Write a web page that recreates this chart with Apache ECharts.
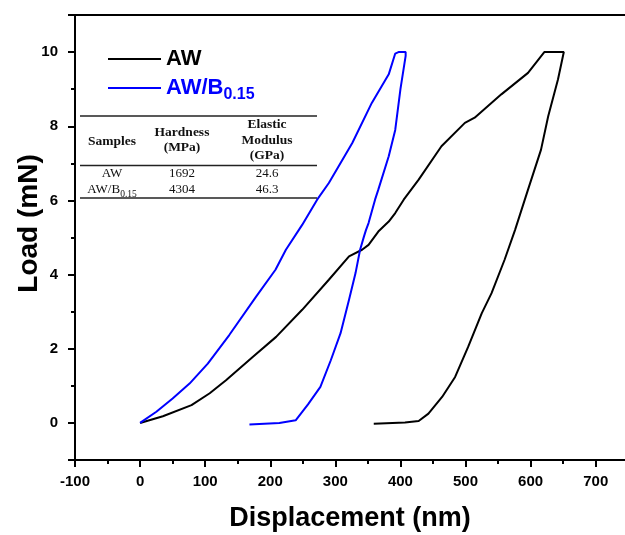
<!DOCTYPE html>
<html>
<head>
<meta charset="utf-8">
<script src="https://cdn.jsdelivr.net/npm/echarts@6/dist/echarts.min.js"></script>
<style>
html,body{margin:0;padding:0;background:#fff;}
#chart{width:625px;height:535px;}
</style>
</head>
<body>
<div id="chart"></div>
<script>
// ---- data ----
var seriesNames = ['AW', 'AW/B0.15'];
var awDisp = [0, 35, 79, 107, 132, 173, 209, 249, 290, 321, 341, 351, 366, 382, 392, 405, 428, 463, 499, 514, 555, 596, 621, 651,
              642, 627, 616, 596, 576, 560, 540, 525, 504, 484, 464, 443, 428, 407, 359];
var awLoad = [0, 0.18, 0.48, 0.8, 1.15, 1.78, 2.32, 3.05, 3.86, 4.49, 4.67, 4.8, 5.16, 5.43, 5.66, 6.02, 6.56, 7.46, 8.09, 8.23, 8.86, 9.44, 10.0, 10.0,
              9.26, 8.27, 7.37, 6.29, 5.2, 4.4, 3.5, 2.96, 2.05, 1.24, 0.7, 0.25, 0.05, 0.01, -0.02];
var awbDisp = [0, 25, 50, 76, 104, 137, 178, 208, 224, 249, 272, 290, 326, 356, 382, 392, 397, 408,
               408, 400, 392, 382, 366, 361, 351, 347, 344, 338, 331, 321, 308, 293, 277, 258, 239, 214, 168];
var awbLoad = [0, 0.3, 0.66, 1.06, 1.6, 2.37, 3.4, 4.13, 4.67, 5.34, 6.02, 6.47, 7.55, 8.63, 9.4, 9.96, 10.0, 10.0,
               9.9, 9.0, 7.9, 7.19, 6.29, 6.02, 5.39, 5.2, 5.03, 4.67, 4.04, 3.32, 2.42, 1.69, 0.97, 0.5, 0.07, 0.0, -0.04];
var xTicks = [-100, 0, 100, 200, 300, 400, 500, 600, 700];
var xMinorTicks = [-50, 50, 150, 250, 350, 450, 550, 650];
var yTicks = [0, 2, 4, 6, 8, 10];
var yMinorTicks = [1, 3, 5, 7, 9];
var yEdgeTicks = [-1, 11];
var tableHeader = [['Samples'], ['Hardness', '(MPa)'], ['Elastic', 'Modulus', '(GPa)']];
var tableRows = [['AW', '1692', '24.6'], ['AW/B{sub|0.15}', '4304', '46.3']];

function zip(a, b) { return a.map(function (v, i) { return [v, b[i]]; }); }

// ---- table graphics (layout) ----
var colX = [112, 182, 267];
var headerLineY = [[142], [133, 148], [125, 140.5, 156]];
var rowY = [174, 190];
var hLines = [116, 165.5, 198];
var tableLeft = 80, tableRight = 317;
var graphics = [];
hLines.forEach(function (y) {
  graphics.push({ type: 'line', shape: { x1: tableLeft, y1: y, x2: tableRight, y2: y },
    style: { stroke: '#222', lineWidth: 1.3 }, z: 10 });
});
tableHeader.forEach(function (lines, c) {
  lines.forEach(function (t, k) {
    graphics.push({ type: 'text', x: colX[c], y: headerLineY[c][k],
      style: { text: t, fill: '#111', font: 'bold 13.5px "Liberation Serif"', textAlign: 'center', textVerticalAlign: 'middle' }, z: 10 });
  });
});
tableRows.forEach(function (row, r) {
  row.forEach(function (t, c) {
    graphics.push({ type: 'text', x: colX[c], y: rowY[r],
      style: { text: t, fill: '#111', fontFamily: 'Liberation Serif', fontSize: 13, textAlign: 'center', textVerticalAlign: 'middle',
        rich: { sub: { fontFamily: 'Liberation Serif', fontSize: 9.5, fill: '#111', padding: [9, 0, 0, 0] } } }, z: 10 });
  });
});

var X_MIN = -100, X_MAX = 745, Y_MIN = -1, Y_MAX = 11;
var axisFont = { fontFamily: 'Liberation Sans', fontWeight: 'bold', fontSize: 15, color: '#000' };
var blackLine = { color: '#000', width: 2 };

var chart = echarts.init(document.getElementById('chart'), null, { renderer: 'canvas' });
chart.setOption({
  animation: false,
  backgroundColor: '#fff',
  grid: { left: 75, right: 0, top: 15, bottom: 75, containLabel: false, outerBoundsMode: 'none' },
  legend: {
    orient: 'vertical', left: 103, top: 43, itemGap: 3,
    icon: 'rect', itemWidth: 53, itemHeight: 2,
    data: [
      { name: seriesNames[0], textStyle: { color: '#000' } },
      { name: seriesNames[1], textStyle: { color: '#0000ff' } }
    ],
    formatter: function (n) { return n === 'AW/B0.15' ? 'AW/B{sub|0.15}' : n; },
    textStyle: {
      fontFamily: 'Liberation Sans', fontWeight: 'bold', fontSize: 22, lineHeight: 22,
      rich: { sub: { fontFamily: 'Liberation Sans', fontWeight: 'bold', fontSize: 16, lineHeight: 30, verticalAlign: 'bottom', color: '#0000ff' } }
    }
  },
  xAxis: [{
    type: 'value', min: X_MIN, max: X_MAX, position: 'bottom',
    name: 'Displacement (nm)', nameLocation: 'middle', nameGap: 45, nameMoveOverlap: false,
    nameTextStyle: { fontFamily: 'Liberation Sans', fontWeight: 'bold', fontSize: 27, color: '#000' },
    axisLine: { show: true, onZero: false, lineStyle: blackLine },
    axisTick: { show: true, inside: false, length: 7, lineStyle: blackLine, customValues: xTicks },
    axisLabel: Object.assign({ margin: 14, customValues: xTicks }, axisFont),
    splitLine: { show: false }
  }, {
    type: 'value', min: X_MIN, max: X_MAX, position: 'bottom',
    axisLine: { show: false, onZero: false },
    axisTick: { show: true, inside: false, length: 4, lineStyle: blackLine, customValues: xMinorTicks },
    axisLabel: { show: false }, splitLine: { show: false }
  }, {
    type: 'value', min: X_MIN, max: X_MAX, position: 'top',
    axisLine: { show: true, onZero: false, lineStyle: blackLine },
    axisTick: { show: false }, axisLabel: { show: false }, splitLine: { show: false }
  }],
  yAxis: [{
    type: 'value', min: Y_MIN, max: Y_MAX, position: 'left',
    name: 'Load (mN)', nameLocation: 'middle', nameGap: 32, nameMoveOverlap: false,
    nameTextStyle: { fontFamily: 'Liberation Sans', fontWeight: 'bold', fontSize: 28, color: '#000', padding: [0, 0, 0, 28] },
    axisLine: { show: true, onZero: false, lineStyle: blackLine },
    axisTick: { show: true, inside: false, length: 7, lineStyle: blackLine, customValues: yEdgeTicks.concat(yTicks) },
    axisLabel: Object.assign({ margin: 17, customValues: yTicks }, axisFont),
    splitLine: { show: false }
  }, {
    type: 'value', min: Y_MIN, max: Y_MAX, position: 'left',
    axisLine: { show: false, onZero: false },
    axisTick: { show: true, inside: false, length: 4, lineStyle: blackLine, customValues: yMinorTicks },
    axisLabel: { show: false }, splitLine: { show: false }
  }],
  graphic: graphics,
  series: [
    { name: seriesNames[0], type: 'line', data: zip(awDisp, awLoad), showSymbol: false, symbol: 'none',
      lineStyle: { color: '#000', width: 2 }, itemStyle: { color: '#000' }, z: 3 },
    { name: seriesNames[1], type: 'line', data: zip(awbDisp, awbLoad), showSymbol: false, symbol: 'none',
      lineStyle: { color: '#0000ff', width: 2 }, itemStyle: { color: '#0000ff' }, z: 4 }
  ]
});
</script>
</body>
</html>
